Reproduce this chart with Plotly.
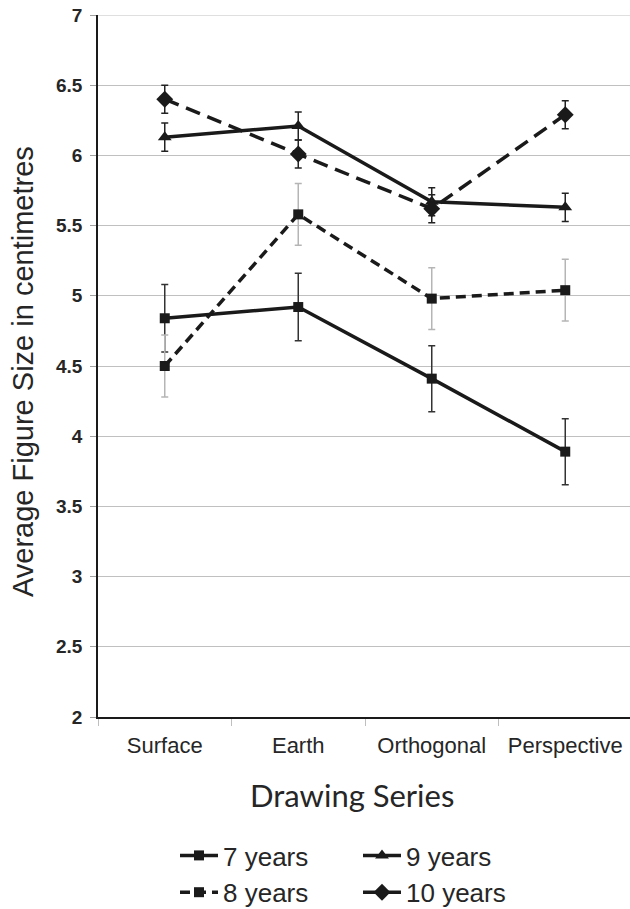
import plotly.graph_objects as go

categories = ["Surface", "Earth", "Orthogonal", "Perspective"]

y7 = [4.84, 4.92, 4.41, 3.89]
e7 = [0.24, 0.24, 0.235, 0.235]
y8 = [4.50, 5.58, 4.98, 5.04]
e8 = [0.22, 0.22, 0.22, 0.22]
y9 = [6.13, 6.21, 5.67, 5.63]
e9 = [0.10, 0.10, 0.10, 0.10]
y10 = [6.40, 6.01, 5.62, 6.29]
e10 = [0.10, 0.10, 0.10, 0.10]

yticks = [2, 2.5, 3, 3.5, 4, 4.5, 5, 5.5, 6, 6.5, 7]
ytick_text = ["2", "2.5", "3", "3.5", "4", "4.5", "5", "5.5", "6", "6.5", "7"]

LINE = "#1a1a1a"
GRID = "#c0c0c0"

series = [
    dict(name="7 years", y=y7, e=e7, dash="solid", symbol="square", size=10, ecol="#333333", rank=1),
    dict(name="8 years", y=y8, e=e8, dash="10px,6px", symbol="square", size=10, ecol="#b5b5b5", rank=3),
    dict(name="9 years", y=y9, e=e9, dash="solid", symbol="triangle-up", size=12, ecol="#222222", rank=2),
    dict(name="10 years", y=y10, e=e10, dash="15px,8px", symbol="diamond", size=13, ecol="#222222", rank=4),
]

fig = go.Figure()
for s in series:
    fig.add_trace(go.Scatter(
        x=categories, y=s["y"], name=s["name"], mode="lines+markers",
        line=dict(color=LINE, width=3.5, dash=s["dash"]),
        marker=dict(symbol=s["symbol"], size=s["size"], color=LINE),
        error_y=dict(type="data", array=s["e"], visible=True, color=s["ecol"],
                     thickness=1.5, width=3.5),
        legendrank=s["rank"],
    ))

fig.update_layout(
    template="none",
    width=630, height=909,
    margin=dict(l=98, r=0, t=15, b=192, autoexpand=False),
    paper_bgcolor="white", plot_bgcolor="white",
    font=dict(family="Liberation Sans, Arial, sans-serif", color="#262626"),
    showlegend=True,
    legend=dict(orientation="h", xref="container", yref="container",
                x=175 / 630, xanchor="left", y=1 - 832 / 909, yanchor="top",
                bgcolor="rgba(0,0,0,0)",
                font=dict(size=26, family="Liberation Sans, Arial, sans-serif", color="#262626"),
                entrywidth=130, tracegroupgap=0, itemwidth=38),
    shapes=[dict(type="line", xref="paper", yref="y", x0=0, x1=1,
                 y0=yticks[-1], y1=yticks[-1], line=dict(color=GRID, width=1), layer="below")],
    annotations=[
        dict(text="Drawing Series", xref="paper", yref="paper",
             x=(352 - 98) / 532, y=-(795 - 717) / 702, xanchor="center", yanchor="middle",
             showarrow=False,
             font=dict(size=31, family="Lato, Carlito, sans-serif", color="#262626")),
        dict(text="Average Figure Size in centimetres", xref="paper", yref="paper",
             x=(23 - 98) / 532, y=(717 - 372) / 702, xanchor="center", yanchor="middle",
             textangle=-90, showarrow=False,
             font=dict(size=29, family="Liberation Sans, Arial, sans-serif", color="#262626")),
    ],
)

fig.update_xaxes(
    type="category", range=[-0.5, 3.485], automargin=False,
    showline=True, linecolor="#1a1a1a", linewidth=1.5,
    ticks="outside", tickson="boundaries", ticklen=7, tickcolor="#bfbfbf", tickwidth=1,
    ticklabelstandoff=8,
    showgrid=False, zeroline=False,
    tickfont=dict(size=22, family="Liberation Sans, Arial, sans-serif", color="#262626"),
)

fig.update_yaxes(
    range=[2, 7], tickvals=yticks, ticktext=ytick_text, automargin=False,
    showline=True, linecolor="#1a1a1a", linewidth=1.5,
    ticks="outside", ticklen=6, tickcolor="#a0a0a0", tickwidth=1,
    ticklabelstandoff=4, ticklabeloverflow="allow",
    showgrid=True, gridcolor=GRID, gridwidth=1, zeroline=False,
    tickfont=dict(size=19, family="Liberation Sans, Arial, sans-serif", color="#262626", weight="bold"),
)

fig.write_html("out.html", config={"displayModeBar": False},
               post_script="document.body.style.margin='0';")
